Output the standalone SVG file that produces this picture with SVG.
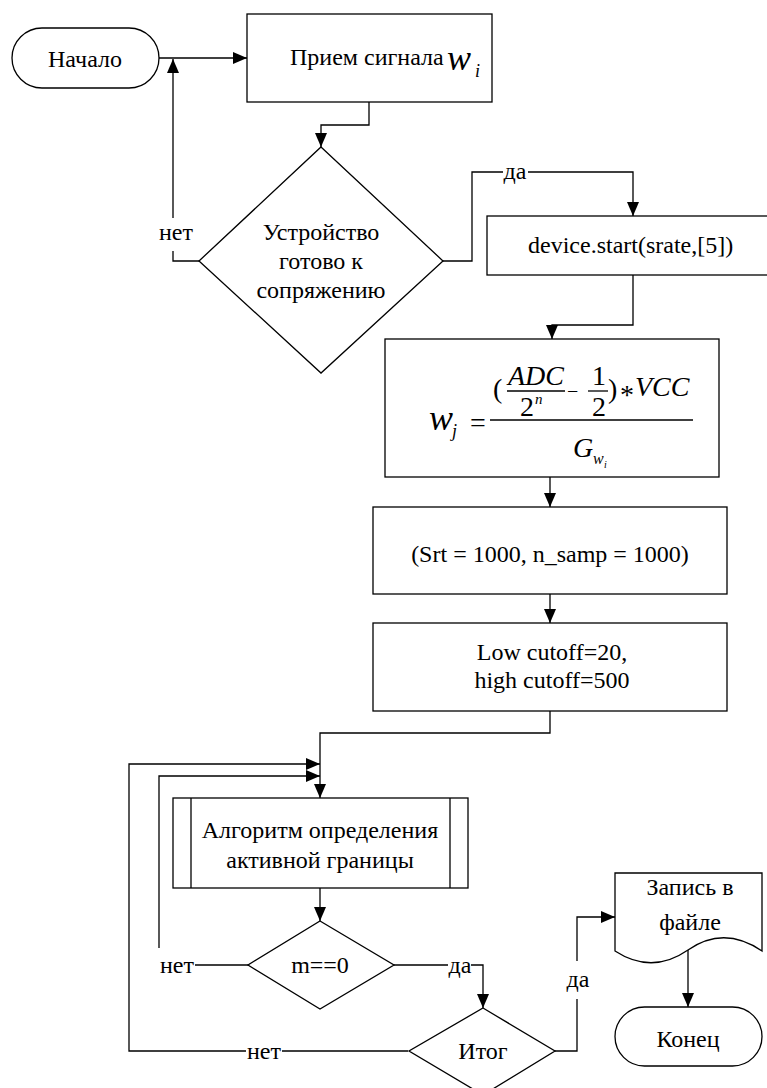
<svg xmlns="http://www.w3.org/2000/svg" width="767" height="1088" viewBox="0 0 767 1088">
<style>
.t{font-family:"Liberation Serif","Times New Roman",serif;font-size:24px;fill:#000}
.m{text-anchor:middle}
.i{font-style:italic}
.s{fill:#fff;stroke:#000;stroke-width:1.3}
.c{fill:none;stroke:#000;stroke-width:1.3;marker-end:url(#ah)}
.l{fill:none;stroke:#000;stroke-width:1.3}
.bg{fill:#fff}
</style>
<defs>
<marker id="ah" markerWidth="14" markerHeight="12" refX="14" refY="6" orient="auto" markerUnits="userSpaceOnUse"><path d="M0,0 L14,6 L0,12 z" fill="#000"/></marker>
</defs>
<rect width="767" height="1088" fill="#fff"/>
<g id="connectors">
<path class="c" d="M159,58 H247"/>
<path class="c" d="M199,261 H173 V59"/>
<path class="c" d="M369,102 V125 H321 V147"/>
<path class="c" d="M443,261 H472 V172 H633 V216"/>
<path class="c" d="M633,275 V325 H552 V339"/>
<path class="c" d="M550,477 V507"/>
<path class="c" d="M550,594 V623"/>
<path class="c" d="M550,711 V733 H320 V798"/>
<path class="c" d="M320,888 V921"/>
<path class="c" d="M248,965 H159 V776 H320"/>
<path class="c" d="M408,1051 H129 V764 H320"/>
<path class="c" d="M394,965 H483 V1008"/>
<path class="c" d="M555,1051 H577 V917 H615"/>
<path class="c" d="M688,950 V1007"/>
<rect class="bg" x="158" y="218" width="36" height="33"/>
<text class="t m" x="176" y="240">нет</text>
<rect class="bg" x="503" y="162" width="25" height="20"/>
<text class="t m" x="515" y="179">да</text>
<rect class="bg" x="157" y="948" width="38" height="26"/>
<text class="t" x="160" y="973">нет</text>
<rect class="bg" x="448" y="955" width="23" height="20"/>
<text class="t m" x="460" y="973">да</text>
<rect class="bg" x="246" y="1042" width="36" height="20"/>
<text class="t m" x="264" y="1059">нет</text>
<rect class="bg" x="566" y="961" width="24" height="38"/>
<text class="t m" x="578" y="987">да</text>
</g>
<g id="start">
<rect class="s" x="12" y="28" width="147" height="60" rx="30"/>
<text class="t m" x="85" y="67">Начало</text>
</g>
<g id="receive">
<rect class="s" x="247" y="14" width="245" height="88"/>
<text class="t" x="290" y="65">Прием сигнала</text>
<text class="t i" x="447" y="70" style="font-size:36px">w</text>
<text class="t i" x="475" y="77" style="font-size:18px">i</text>
</g>
<g id="ready">
<path class="s" d="M321,147 L443,261 L321,373 L199,261 Z"/>
<text class="t m" x="321" y="240">Устройство</text>
<text class="t m" x="321" y="269">готово к</text>
<text class="t m" x="321" y="298">сопряжению</text>
</g>
<g id="device">
<rect class="s" x="487" y="216" width="300" height="59"/>
<text class="t" x="528" y="253">device.start(srate,[5])</text>
</g>
<g id="formula">
<rect class="s" x="385" y="339" width="334" height="138"/>
<text class="t i" x="429" y="430" style="font-size:36px">w</text>
<text class="t i" x="452" y="437" style="font-size:18px">j</text>
<text class="t" x="470" y="432" style="font-size:28px">=</text>
<line class="l" x1="490" y1="420" x2="693" y2="420"/>
<text class="t" x="493" y="398" style="font-size:28px">(</text>
<text class="t i" x="508" y="385" style="font-size:28px">ADC</text>
<line class="l" x1="507" y1="391" x2="565" y2="391"/>
<text class="t" x="520" y="416" style="font-size:28px">2</text>
<text class="t i" x="535" y="404" style="font-size:15px">n</text>
<text class="t" x="567" y="398" style="font-size:20px">−</text>
<text class="t" x="592" y="385" style="font-size:28px">1</text>
<line class="l" x1="588" y1="391" x2="608" y2="391"/>
<text class="t" x="592" y="416" style="font-size:28px">2</text>
<text class="t" x="608" y="398" style="font-size:28px">)</text>
<text class="t" x="620" y="404" style="font-size:28px">*</text>
<text class="t i" x="635" y="396" style="font-size:28px">VCC</text>
<text class="t i" x="573" y="457" style="font-size:28px">G</text>
<text class="t i" x="593" y="464" style="font-size:16px">w</text>
<text class="t i" x="604" y="468" style="font-size:10px">i</text>
</g>
<g id="params">
<rect class="s" x="373" y="507" width="354" height="87"/>
<text class="t m" x="550" y="562">(Srt = 1000, n_samp = 1000)</text>
</g>
<g id="cutoff">
<rect class="s" x="373" y="623" width="354" height="88"/>
<text class="t m" x="552" y="660">Low cutoff=20,</text>
<text class="t m" x="552" y="688">high cutoff=500</text>
</g>
<g id="algorithm">
<rect class="s" x="173" y="798" width="295" height="90"/>
<line class="l" x1="191" y1="798" x2="191" y2="888"/>
<line class="l" x1="450" y1="798" x2="450" y2="888"/>
<text class="t m" x="320" y="838">Алгоритм определения</text>
<text class="t m" x="320" y="868">активной границы</text>
</g>
<g id="check">
<path class="s" d="M320,921 L394,965 L320,1009 L248,965 Z"/>
<text class="t m" x="320" y="973">m==0</text>
</g>
<g id="result">
<path class="s" d="M483,1008 L555,1051 L483,1095 L409,1051 Z"/>
<text class="t m" x="483" y="1059">Итог</text>
</g>
<g id="file">
<path class="s" d="M615,873 H762 V951 Q724,925 688,950 T615,951 Z"/>
<text class="t m" x="690" y="895">Запись в</text>
<text class="t m" x="690" y="930">файле</text>
</g>
<g id="end">
<rect class="s" x="615" y="1007" width="147" height="59" rx="29.5"/>
<text class="t m" x="688" y="1047">Конец</text>
</g>
</svg>
